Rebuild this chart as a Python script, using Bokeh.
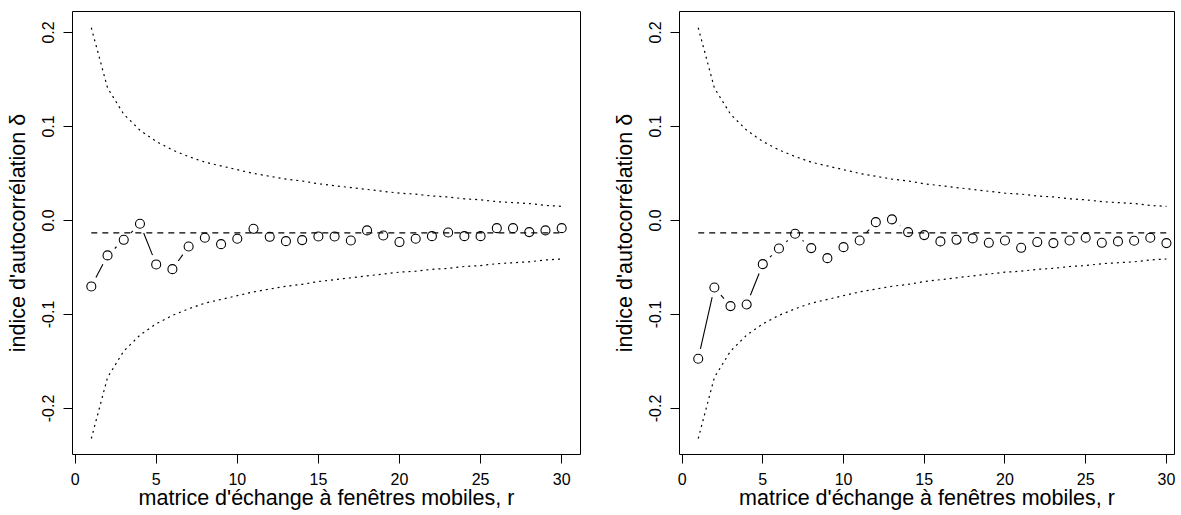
import math
from bokeh.plotting import figure
from bokeh.layouts import row
from bokeh.models import FixedTicker, PrintfTickFormatter, Range1d
from bokeh.embed import file_html
from bokeh.resources import INLINE

# ---------------- data ----------------
r = list(range(1, 31))

delta_left = [-0.0702, -0.0372, -0.0206, -0.0035, -0.0468, -0.0518, -0.0277, -0.0184,
              -0.0252, -0.0195, -0.0089, -0.0174, -0.0220, -0.0209, -0.0170, -0.0170,
              -0.0213, -0.0106, -0.0160, -0.0230, -0.0195, -0.0167, -0.0128, -0.0167,
              -0.0167, -0.0082, -0.0082, -0.0124, -0.0106, -0.0082]

delta_right = [-0.1471, -0.0713, -0.0911, -0.0894, -0.0465, -0.0298, -0.0142, -0.0294,
               -0.0401, -0.0284, -0.0213, -0.0018, 0.0011, -0.0124, -0.0156, -0.0223,
               -0.0206, -0.0191, -0.0238, -0.0213, -0.0291, -0.0230, -0.0241, -0.0213,
               -0.0184, -0.0238, -0.0223, -0.0216, -0.0184, -0.0241]

upper = [0.205, 0.141, 0.113, 0.096, 0.084, 0.075, 0.068, 0.062, 0.058, 0.054,
         0.050, 0.047, 0.044, 0.042, 0.039, 0.037, 0.035, 0.033, 0.031, 0.029,
         0.028, 0.026, 0.025, 0.023, 0.022, 0.020, 0.019, 0.018, 0.016, 0.015]

lower = [-0.232, -0.167, -0.139, -0.122, -0.110, -0.101, -0.094, -0.088, -0.084, -0.080,
         -0.076, -0.073, -0.070, -0.068, -0.065, -0.063, -0.061, -0.059, -0.057, -0.055,
         -0.054, -0.052, -0.051, -0.049, -0.048, -0.046, -0.045, -0.044, -0.042, -0.041]

expected = -0.0133

x_ticks = [0, 5, 10, 15, 20, 25, 30]
y_ticks = [-0.2, -0.1, 0.0, 0.1, 0.2]

x_label = "matrice d'échange à fenêtres mobiles, r"
y_label = "indice d'autocorrélation δ"

# ---------------- styling ----------------
FONT = "Liberation Sans"
Y0, Y1 = -0.249, 0.2223
FRAME_H = 443
GAP = 10.0  # px gap around points for type="b" lines


def b_segments(xs, ys, sx, sy, gap):
    """R type='b' style: segments shortened by `gap` pixels at each end."""
    x0s, y0s, x1s, y1s = [], [], [], []
    for i in range(len(xs) - 1):
        dxp = (xs[i + 1] - xs[i]) * sx
        dyp = (ys[i + 1] - ys[i]) * sy
        d = math.hypot(dxp, dyp)
        if d > 2 * gap:
            f = gap / d
            x0s.append(xs[i] + (xs[i + 1] - xs[i]) * f)
            y0s.append(ys[i] + (ys[i + 1] - ys[i]) * f)
            x1s.append(xs[i + 1] - (xs[i + 1] - xs[i]) * f)
            y1s.append(ys[i + 1] - (ys[i + 1] - ys[i]) * f)
    return x0s, y0s, x1s, y1s


def make_fig(delta, x_end, frame_w, min_left, min_right):
    p = figure(frame_width=frame_w, frame_height=FRAME_H,
               x_range=Range1d(-0.16, x_end), y_range=Range1d(Y0, Y1),
               output_backend="svg", toolbar_location=None,
               min_border_left=min_left, min_border_right=min_right,
               min_border_top=11, min_border_bottom=58)
    p.background_fill_color = "white"
    p.border_fill_color = "white"
    p.outline_line_color = "black"
    p.outline_line_width = 1
    p.outline_line_alpha = 1
    p.grid.visible = False

    for ax in (p.xaxis[0], p.yaxis[0]):
        ax.axis_line_color = None
        ax.major_tick_line_color = "black"
        ax.major_tick_out = 9
        ax.major_tick_in = 0
        ax.minor_tick_line_color = None
        ax.major_label_text_font = FONT
        ax.major_label_text_font_size = "16px"
        ax.major_label_text_color = "black"
        ax.axis_label_text_font = FONT
        ax.axis_label_text_font_size = "21.5px"
        ax.axis_label_text_font_style = "normal"
        ax.axis_label_text_color = "black"

    p.xaxis.ticker = FixedTicker(ticks=x_ticks)
    p.xaxis.major_label_standoff = 9
    p.xaxis.axis_label = x_label
    p.xaxis.axis_label_standoff = -2

    p.yaxis.ticker = FixedTicker(ticks=y_ticks)
    p.yaxis.formatter = PrintfTickFormatter(format="%.1f")
    p.yaxis.major_label_orientation = "vertical"
    p.yaxis.major_label_standoff = 9
    p.yaxis.axis_label = y_label
    p.yaxis.axis_label_standoff = 10

    # confidence bands (dotted)
    p.line(r, upper, line_color="black", line_width=1.2, line_dash="2 4")
    p.line(r, lower, line_color="black", line_width=1.2, line_dash="2 4")
    # expected value (dashed)
    p.line([r[0], r[-1]], [expected, expected], line_color="black",
           line_width=1.2, line_dash="6 5")

    sx = frame_w / (x_end + 0.16)
    sy = FRAME_H / (Y1 - Y0)
    x0s, y0s, x1s, y1s = b_segments(r, delta, sx, sy, GAP)
    p.segment(x0s, y0s, x1s, y1s, line_color="black", line_width=1.1)
    p.scatter(r, delta, marker="circle", size=9, fill_color=None,
              line_color="black", line_width=1.1)
    return p


p1 = make_fig(delta_left, 31.16, 508, 72, 26)
p2 = make_fig(delta_right, 30.50, 495, 73, 2)

layout = row(p1, p2)
open("out.html", "w").write(file_html(layout, INLINE))
